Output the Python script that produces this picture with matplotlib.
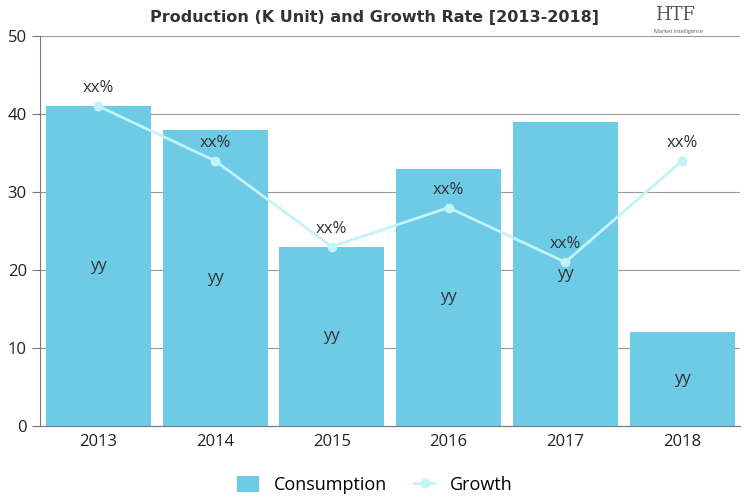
import matplotlib.pyplot as plt

years = ['2013', '2014', '2015', '2016', '2017', '2018']
consumption = [41, 38, 23, 33, 39, 12]
growth = [41, 34, 23, 28, 21, 34]
bar_labels = ['yy'] * 6
growth_labels = ['xx%'] * 6

plt.rcParams['font.family'] = ['Open Sans', 'DejaVu Sans']

fig = plt.figure(figsize=(7.5, 5), dpi=100)
ax = fig.add_axes([0.0533, 0.148, 0.934, 0.78])

x = range(len(years))
bars = ax.bar(x, consumption, width=0.9, color='#6ecbe6', label='Consumption', zorder=2)
line, = ax.plot(x, growth, color='#c2f3f8', lw=2, marker='o', ms=6, label='Growth', zorder=3)

for i, v in enumerate(consumption):
    ax.text(i, v / 2, bar_labels[i], ha='center', va='center', fontsize=12, color='#333333', zorder=4)
for i, v in enumerate(growth):
    ax.annotate(growth_labels[i], (i, v), xytext=(0, 13), textcoords='offset points',
                ha='center', va='center', fontsize=12, color='#333333', zorder=4)

ax.set_xlim(-0.5, 5.5)
ax.set_ylim(0, 50)
ax.set_yticks(range(0, 51, 10))
ax.set_xticks(list(x))
ax.set_xticklabels(years)
ax.yaxis.grid(True, color='#999999', lw=0.8, zorder=0)
ax.set_axisbelow(True)
for s in ['top', 'right']:
    ax.spines[s].set_visible(False)
ax.spines['left'].set_color('#777777')
ax.spines['bottom'].set_color('#777777')
ax.tick_params(axis='y', labelsize=12, colors='#777777', labelcolor='#222222', length=6)
ax.tick_params(axis='x', labelsize=12, colors='#777777', labelcolor='#222222', length=0, pad=6)

fig.text(0.5, 0.965, 'Production (K Unit) and Growth Rate [2013-2018]', ha='center', va='center',
         fontsize=11.5, fontweight='heavy', color='#333333', family='DejaVu Sans')
fig.text(0.9, 0.97, 'HTF', ha='center', va='center', fontsize=13, color='#555555', family='DejaVu Serif')
fig.text(0.905, 0.938, 'Market Intelligence', ha='center', va='center', fontsize=4, color='#555555')

fig.legend([bars, line], ['Consumption', 'Growth'], loc='center', bbox_to_anchor=(0.5, 0.03),
           ncol=2, frameon=False, fontsize=13, handlelength=1.2, handleheight=1.0, columnspacing=1.5)

fig.savefig('out.png', dpi=100)
